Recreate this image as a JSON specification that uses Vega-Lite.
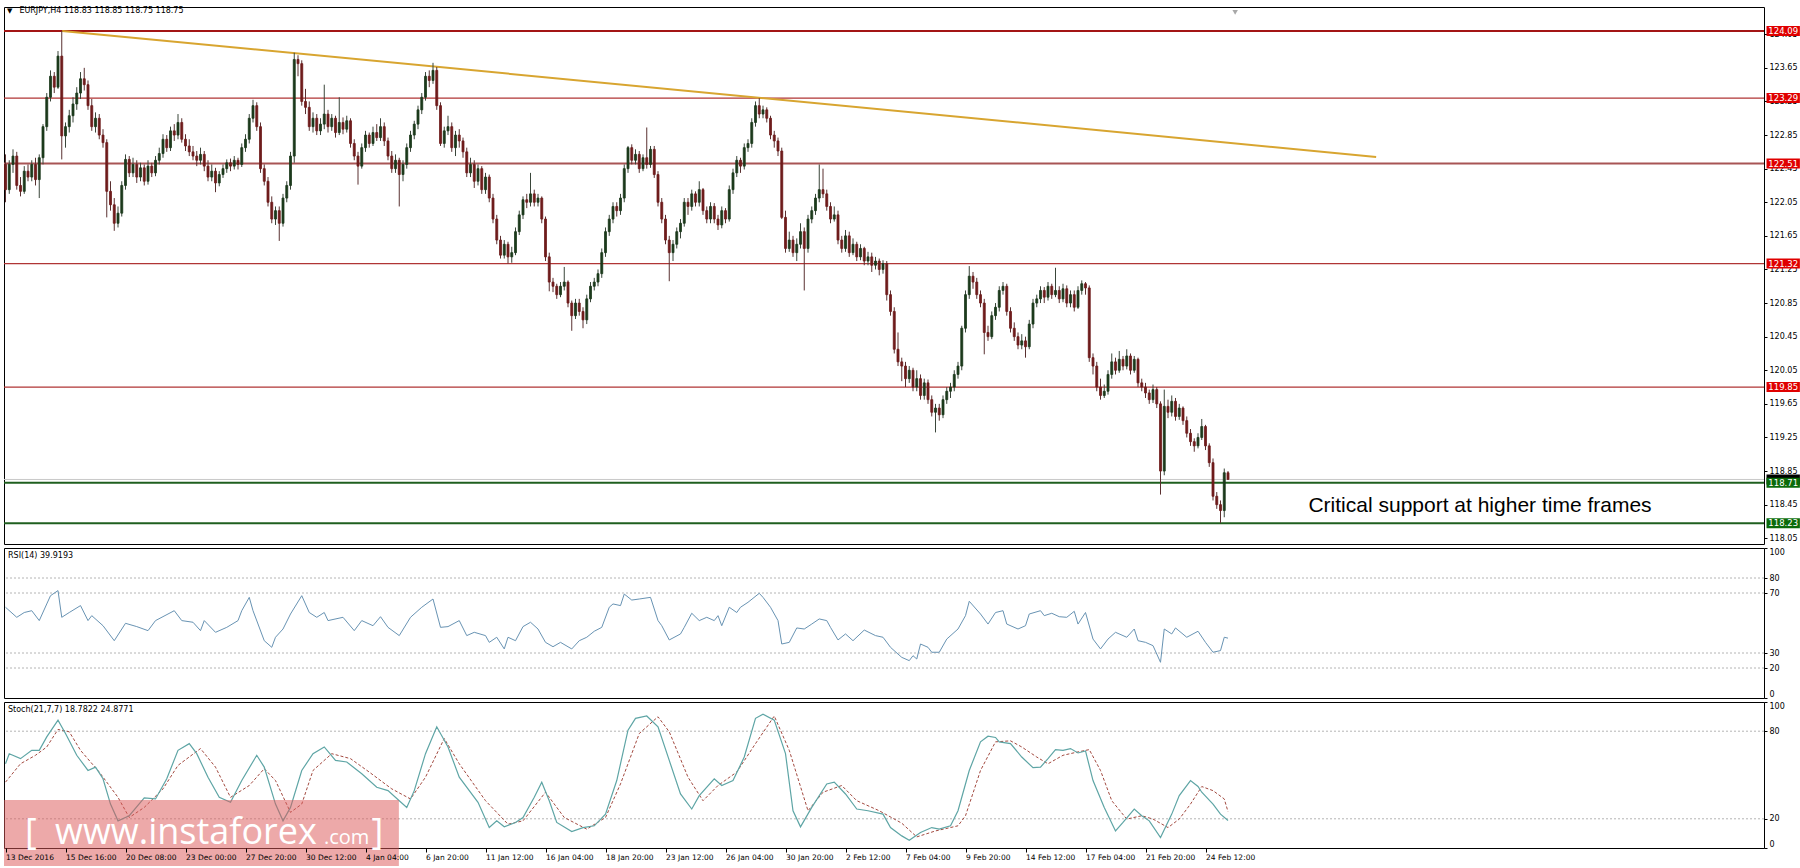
{
"$schema":"https://vega.github.io/schema/vega-lite/v6.json",
"padding":{"left":2,"top":6,"right":0,"bottom":0},
"bounds":"flush",
"spacing":4,
"config":{"view":{"stroke":"#000000","strokeWidth":1},"font":"DejaVu Sans","axis":{"labelFont":"DejaVu Sans","labelFontSize":8,"labelColor":"#000000","tickColor":"#000000","domain":false,"grid":false,"tickSize":3,"labelPadding":2}},
"datasets":{
"candles":[
{"i":0,"o":122.50,"h":122.62,"l":122.05,"c":122.20},{"i":1,"o":122.20,"h":122.55,"l":122.15,"c":122.50},{"i":2,"o":122.50,"h":122.68,"l":122.40,"c":122.60},{"i":3,"o":122.60,"h":122.65,"l":122.20,"c":122.25},{"i":4,"o":122.25,"h":122.35,"l":122.12,"c":122.18},{"i":5,"o":122.18,"h":122.48,"l":122.15,"c":122.42},{"i":6,"o":122.42,"h":122.50,"l":122.30,"c":122.35},{"i":7,"o":122.35,"h":122.55,"l":122.30,"c":122.50},{"i":8,"o":122.50,"h":122.58,"l":122.25,"c":122.32},{"i":9,"o":122.32,"h":122.62,"l":122.10,"c":122.58},
{"i":10,"o":122.58,"h":122.98,"l":122.50,"c":122.95},{"i":11,"o":122.95,"h":123.35,"l":122.90,"c":123.30},{"i":12,"o":123.30,"h":123.62,"l":123.25,"c":123.55},{"i":13,"o":123.55,"h":123.60,"l":123.35,"c":123.42},{"i":14,"o":123.42,"h":123.85,"l":123.40,"c":123.79},{"i":15,"o":123.79,"h":124.09,"l":122.56,"c":122.84},{"i":16,"o":122.84,"h":123.00,"l":122.70,"c":122.95},{"i":17,"o":122.95,"h":123.15,"l":122.88,"c":123.08},{"i":18,"o":123.08,"h":123.30,"l":123.00,"c":123.22},{"i":19,"o":123.22,"h":123.42,"l":123.15,"c":123.35},
{"i":20,"o":123.35,"h":123.60,"l":123.28,"c":123.52},{"i":21,"o":123.52,"h":123.65,"l":123.38,"c":123.45},{"i":22,"o":123.45,"h":123.50,"l":123.15,"c":123.20},{"i":23,"o":123.20,"h":123.28,"l":122.90,"c":122.95},{"i":24,"o":122.95,"h":123.12,"l":122.88,"c":123.05},{"i":25,"o":123.05,"h":123.10,"l":122.80,"c":122.85},{"i":26,"o":122.85,"h":122.92,"l":122.70,"c":122.76},{"i":27,"o":122.76,"h":122.80,"l":121.87,"c":122.18},{"i":28,"o":122.18,"h":122.30,"l":121.95,"c":122.02},{"i":29,"o":122.02,"h":122.10,"l":121.71,"c":121.80},
{"i":30,"o":121.80,"h":122.00,"l":121.75,"c":121.92},{"i":31,"o":121.92,"h":122.30,"l":121.88,"c":122.25},{"i":32,"o":122.25,"h":122.62,"l":122.20,"c":122.56},{"i":33,"o":122.56,"h":122.60,"l":122.35,"c":122.40},{"i":34,"o":122.40,"h":122.58,"l":122.35,"c":122.50},{"i":35,"o":122.50,"h":122.55,"l":122.28,"c":122.35},{"i":36,"o":122.35,"h":122.52,"l":122.30,"c":122.46},{"i":37,"o":122.46,"h":122.50,"l":122.25,"c":122.30},{"i":38,"o":122.30,"h":122.55,"l":122.26,"c":122.48},{"i":39,"o":122.48,"h":122.52,"l":122.35,"c":122.40},
{"i":40,"o":122.40,"h":122.60,"l":122.36,"c":122.55},{"i":41,"o":122.55,"h":122.70,"l":122.50,"c":122.63},{"i":42,"o":122.63,"h":122.86,"l":122.58,"c":122.80},{"i":43,"o":122.80,"h":122.85,"l":122.65,"c":122.70},{"i":44,"o":122.70,"h":122.95,"l":122.66,"c":122.90},{"i":45,"o":122.90,"h":122.98,"l":122.78,"c":122.85},{"i":46,"o":122.85,"h":123.10,"l":122.80,"c":123.00},{"i":47,"o":123.00,"h":123.05,"l":122.76,"c":122.80},{"i":48,"o":122.80,"h":122.86,"l":122.66,"c":122.72},{"i":49,"o":122.72,"h":122.80,"l":122.60,"c":122.65},
{"i":50,"o":122.65,"h":122.72,"l":122.55,"c":122.60},{"i":51,"o":122.60,"h":122.66,"l":122.48,"c":122.55},{"i":52,"o":122.55,"h":122.70,"l":122.50,"c":122.62},{"i":53,"o":122.62,"h":122.66,"l":122.42,"c":122.48},{"i":54,"o":122.48,"h":122.55,"l":122.30,"c":122.35},{"i":55,"o":122.35,"h":122.50,"l":122.30,"c":122.42},{"i":56,"o":122.42,"h":122.46,"l":122.17,"c":122.28},{"i":57,"o":122.28,"h":122.42,"l":122.24,"c":122.38},{"i":58,"o":122.38,"h":122.50,"l":122.34,"c":122.45},{"i":59,"o":122.45,"h":122.56,"l":122.40,"c":122.52},
{"i":60,"o":122.52,"h":122.57,"l":122.42,"c":122.48},{"i":61,"o":122.48,"h":122.60,"l":122.44,"c":122.55},{"i":62,"o":122.55,"h":122.58,"l":122.44,"c":122.50},{"i":63,"o":122.50,"h":122.75,"l":122.47,"c":122.70},{"i":64,"o":122.70,"h":122.86,"l":122.65,"c":122.80},{"i":65,"o":122.80,"h":123.10,"l":122.75,"c":123.05},{"i":66,"o":123.05,"h":123.27,"l":123.00,"c":123.20},{"i":67,"o":123.20,"h":123.24,"l":122.90,"c":122.95},{"i":68,"o":122.95,"h":123.00,"l":122.40,"c":122.45},{"i":69,"o":122.45,"h":122.50,"l":122.25,"c":122.30},
{"i":70,"o":122.30,"h":122.35,"l":122.00,"c":122.05},{"i":71,"o":122.05,"h":122.12,"l":121.80,"c":121.85},{"i":72,"o":121.85,"h":122.00,"l":121.78,"c":121.95},{"i":73,"o":121.95,"h":122.00,"l":121.59,"c":121.80},{"i":74,"o":121.80,"h":122.15,"l":121.76,"c":122.10},{"i":75,"o":122.10,"h":122.30,"l":122.05,"c":122.25},{"i":76,"o":122.25,"h":122.65,"l":122.20,"c":122.60},{"i":77,"o":122.60,"h":123.83,"l":122.52,"c":123.75},{"i":78,"o":123.75,"h":123.80,"l":123.55,"c":123.70},{"i":79,"o":123.70,"h":123.74,"l":123.20,"c":123.25},
{"i":80,"o":123.25,"h":123.40,"l":123.10,"c":123.18},{"i":81,"o":123.18,"h":123.25,"l":122.90,"c":122.95},{"i":82,"o":122.95,"h":123.12,"l":122.88,"c":123.05},{"i":83,"o":123.05,"h":123.10,"l":122.85,"c":122.90},{"i":84,"o":122.90,"h":123.05,"l":122.85,"c":122.98},{"i":85,"o":122.98,"h":123.45,"l":122.92,"c":123.10},{"i":86,"o":123.10,"h":123.15,"l":122.88,"c":122.95},{"i":87,"o":122.95,"h":123.10,"l":122.90,"c":123.05},{"i":88,"o":123.05,"h":123.08,"l":122.82,"c":122.88},{"i":89,"o":122.88,"h":123.30,"l":122.85,"c":123.00},
{"i":90,"o":123.00,"h":123.06,"l":122.86,"c":122.92},{"i":91,"o":122.92,"h":123.08,"l":122.88,"c":123.02},{"i":92,"o":123.02,"h":123.05,"l":122.70,"c":122.75},{"i":93,"o":122.75,"h":122.80,"l":122.55,"c":122.60},{"i":94,"o":122.60,"h":122.65,"l":122.26,"c":122.48},{"i":95,"o":122.48,"h":122.75,"l":122.45,"c":122.70},{"i":96,"o":122.70,"h":122.90,"l":122.65,"c":122.85},{"i":97,"o":122.85,"h":122.88,"l":122.70,"c":122.75},{"i":98,"o":122.75,"h":122.95,"l":122.72,"c":122.88},{"i":99,"o":122.88,"h":122.98,"l":122.78,"c":122.82},
{"i":100,"o":122.82,"h":123.05,"l":122.78,"c":122.95},{"i":101,"o":122.95,"h":123.00,"l":122.72,"c":122.78},{"i":102,"o":122.78,"h":122.82,"l":122.55,"c":122.60},{"i":103,"o":122.60,"h":122.66,"l":122.40,"c":122.45},{"i":104,"o":122.45,"h":122.62,"l":122.40,"c":122.55},{"i":105,"o":122.55,"h":122.58,"l":122.00,"c":122.38},{"i":106,"o":122.38,"h":122.55,"l":122.30,"c":122.50},{"i":107,"o":122.50,"h":122.75,"l":122.45,"c":122.70},{"i":108,"o":122.70,"h":122.90,"l":122.65,"c":122.85},{"i":109,"o":122.85,"h":123.02,"l":122.80,"c":122.98},
{"i":110,"o":122.98,"h":123.20,"l":122.92,"c":123.15},{"i":111,"o":123.15,"h":123.35,"l":123.10,"c":123.30},{"i":112,"o":123.30,"h":123.60,"l":123.26,"c":123.55},{"i":113,"o":123.55,"h":123.62,"l":123.42,"c":123.50},{"i":114,"o":123.50,"h":123.71,"l":123.46,"c":123.62},{"i":115,"o":123.62,"h":123.66,"l":123.15,"c":123.20},{"i":116,"o":123.20,"h":123.24,"l":122.72,"c":122.75},{"i":117,"o":122.75,"h":122.95,"l":122.70,"c":122.90},{"i":118,"o":122.90,"h":123.08,"l":122.85,"c":122.95},{"i":119,"o":122.95,"h":123.00,"l":122.65,"c":122.70},
{"i":120,"o":122.70,"h":122.90,"l":122.60,"c":122.85},{"i":121,"o":122.85,"h":122.92,"l":122.70,"c":122.78},{"i":122,"o":122.78,"h":122.82,"l":122.58,"c":122.65},{"i":123,"o":122.65,"h":122.70,"l":122.35,"c":122.40},{"i":124,"o":122.40,"h":122.58,"l":122.35,"c":122.50},{"i":125,"o":122.50,"h":122.55,"l":122.22,"c":122.30},{"i":126,"o":122.30,"h":122.50,"l":122.25,"c":122.45},{"i":127,"o":122.45,"h":122.48,"l":122.15,"c":122.20},{"i":128,"o":122.20,"h":122.40,"l":122.15,"c":122.35},{"i":129,"o":122.35,"h":122.38,"l":122.05,"c":122.10},
{"i":130,"o":122.10,"h":122.15,"l":121.80,"c":121.85},{"i":131,"o":121.85,"h":121.90,"l":121.55,"c":121.60},{"i":132,"o":121.60,"h":121.65,"l":121.38,"c":121.42},{"i":133,"o":121.42,"h":121.60,"l":121.38,"c":121.55},{"i":134,"o":121.55,"h":121.58,"l":121.32,"c":121.40},{"i":135,"o":121.40,"h":121.52,"l":121.33,"c":121.45},{"i":136,"o":121.45,"h":121.75,"l":121.42,"c":121.70},{"i":137,"o":121.70,"h":121.95,"l":121.66,"c":121.90},{"i":138,"o":121.90,"h":122.12,"l":121.85,"c":122.08},{"i":139,"o":122.08,"h":122.15,"l":121.98,"c":122.05},
{"i":140,"o":122.05,"h":122.40,"l":122.00,"c":122.15},{"i":141,"o":122.15,"h":122.20,"l":122.00,"c":122.05},{"i":142,"o":122.05,"h":122.15,"l":122.00,"c":122.10},{"i":143,"o":122.10,"h":122.12,"l":121.80,"c":121.85},{"i":144,"o":121.85,"h":121.88,"l":121.35,"c":121.40},{"i":145,"o":121.40,"h":121.45,"l":120.99,"c":121.10},{"i":146,"o":121.10,"h":121.15,"l":120.98,"c":121.05},{"i":147,"o":121.05,"h":121.08,"l":120.90,"c":120.95},{"i":148,"o":120.95,"h":121.10,"l":120.92,"c":121.05},{"i":149,"o":121.05,"h":121.28,"l":121.00,"c":121.10},
{"i":150,"o":121.10,"h":121.12,"l":120.80,"c":120.85},{"i":151,"o":120.85,"h":120.88,"l":120.52,"c":120.70},{"i":152,"o":120.70,"h":120.90,"l":120.66,"c":120.85},{"i":153,"o":120.85,"h":120.90,"l":120.70,"c":120.75},{"i":154,"o":120.75,"h":120.80,"l":120.55,"c":120.65},{"i":155,"o":120.65,"h":120.95,"l":120.60,"c":120.90},{"i":156,"o":120.90,"h":121.10,"l":120.86,"c":121.05},{"i":157,"o":121.05,"h":121.15,"l":121.00,"c":121.10},{"i":158,"o":121.10,"h":121.25,"l":121.05,"c":121.20},{"i":159,"o":121.20,"h":121.50,"l":121.15,"c":121.45},
{"i":160,"o":121.45,"h":121.75,"l":121.40,"c":121.70},{"i":161,"o":121.70,"h":121.90,"l":121.65,"c":121.85},{"i":162,"o":121.85,"h":122.05,"l":121.80,"c":122.00},{"i":163,"o":122.00,"h":122.05,"l":121.88,"c":121.95},{"i":164,"o":121.95,"h":122.15,"l":121.90,"c":122.10},{"i":165,"o":122.10,"h":122.50,"l":122.05,"c":122.45},{"i":166,"o":122.45,"h":122.72,"l":122.40,"c":122.70},{"i":167,"o":122.70,"h":122.74,"l":122.50,"c":122.55},{"i":168,"o":122.55,"h":122.68,"l":122.50,"c":122.62},{"i":169,"o":122.62,"h":122.66,"l":122.40,"c":122.45},
{"i":170,"o":122.45,"h":122.62,"l":122.42,"c":122.58},{"i":171,"o":122.58,"h":122.94,"l":122.45,"c":122.50},{"i":172,"o":122.50,"h":122.72,"l":122.46,"c":122.68},{"i":173,"o":122.68,"h":122.72,"l":122.34,"c":122.38},{"i":174,"o":122.38,"h":122.42,"l":122.00,"c":122.05},{"i":175,"o":122.05,"h":122.10,"l":121.80,"c":121.85},{"i":176,"o":121.85,"h":121.90,"l":121.55,"c":121.60},{"i":177,"o":121.60,"h":121.65,"l":121.11,"c":121.45},{"i":178,"o":121.45,"h":121.60,"l":121.35,"c":121.55},{"i":179,"o":121.55,"h":121.75,"l":121.50,"c":121.70},
{"i":180,"o":121.70,"h":121.85,"l":121.62,"c":121.80},{"i":181,"o":121.80,"h":122.10,"l":121.76,"c":122.05},{"i":182,"o":122.05,"h":122.10,"l":121.90,"c":122.00},{"i":183,"o":122.00,"h":122.20,"l":121.95,"c":122.15},{"i":184,"o":122.15,"h":122.18,"l":122.00,"c":122.05},{"i":185,"o":122.05,"h":122.30,"l":122.00,"c":122.20},{"i":186,"o":122.20,"h":122.22,"l":121.90,"c":121.95},{"i":187,"o":121.95,"h":122.00,"l":121.80,"c":121.85},{"i":188,"o":121.85,"h":122.05,"l":121.80,"c":122.00},{"i":189,"o":122.00,"h":122.04,"l":121.80,"c":121.85},
{"i":190,"o":121.85,"h":121.90,"l":121.72,"c":121.78},{"i":191,"o":121.78,"h":122.00,"l":121.74,"c":121.95},{"i":192,"o":121.95,"h":121.98,"l":121.80,"c":121.85},{"i":193,"o":121.85,"h":122.25,"l":121.82,"c":122.20},{"i":194,"o":122.20,"h":122.45,"l":122.15,"c":122.40},{"i":195,"o":122.40,"h":122.60,"l":122.35,"c":122.55},{"i":196,"o":122.55,"h":122.58,"l":122.40,"c":122.48},{"i":197,"o":122.48,"h":122.75,"l":122.44,"c":122.70},{"i":198,"o":122.70,"h":122.80,"l":122.65,"c":122.75},{"i":199,"o":122.75,"h":123.05,"l":122.70,"c":123.00},
{"i":200,"o":123.00,"h":123.25,"l":122.95,"c":123.20},{"i":201,"o":123.20,"h":123.29,"l":123.05,"c":123.10},{"i":202,"o":123.10,"h":123.20,"l":123.05,"c":123.15},{"i":203,"o":123.15,"h":123.18,"l":123.00,"c":123.05},{"i":204,"o":123.05,"h":123.08,"l":122.80,"c":122.85},{"i":205,"o":122.85,"h":122.90,"l":122.70,"c":122.78},{"i":206,"o":122.78,"h":122.82,"l":122.60,"c":122.66},{"i":207,"o":122.66,"h":122.70,"l":121.85,"c":121.87},{"i":208,"o":121.87,"h":121.95,"l":121.45,"c":121.50},{"i":209,"o":121.50,"h":121.70,"l":121.46,"c":121.60},
{"i":210,"o":121.60,"h":121.65,"l":121.40,"c":121.45},{"i":211,"o":121.45,"h":121.62,"l":121.35,"c":121.55},{"i":212,"o":121.55,"h":121.80,"l":121.50,"c":121.70},{"i":213,"o":121.70,"h":121.75,"l":121.00,"c":121.50},{"i":214,"o":121.50,"h":121.90,"l":121.45,"c":121.85},{"i":215,"o":121.85,"h":122.00,"l":121.80,"c":121.95},{"i":216,"o":121.95,"h":122.15,"l":121.90,"c":122.10},{"i":217,"o":122.10,"h":122.50,"l":122.05,"c":122.20},{"i":218,"o":122.20,"h":122.45,"l":122.10,"c":122.15},{"i":219,"o":122.15,"h":122.20,"l":121.95,"c":122.00},
{"i":220,"o":122.00,"h":122.05,"l":121.80,"c":121.85},{"i":221,"o":121.85,"h":122.00,"l":121.82,"c":121.90},{"i":222,"o":121.90,"h":121.95,"l":121.55,"c":121.60},{"i":223,"o":121.60,"h":121.65,"l":121.45,"c":121.50},{"i":224,"o":121.50,"h":121.72,"l":121.46,"c":121.65},{"i":225,"o":121.65,"h":121.70,"l":121.40,"c":121.45},{"i":226,"o":121.45,"h":121.62,"l":121.42,"c":121.55},{"i":227,"o":121.55,"h":121.58,"l":121.35,"c":121.40},{"i":228,"o":121.40,"h":121.55,"l":121.36,"c":121.50},{"i":229,"o":121.50,"h":121.52,"l":121.30,"c":121.35},
{"i":230,"o":121.35,"h":121.46,"l":121.30,"c":121.40},{"i":231,"o":121.40,"h":121.45,"l":121.22,"c":121.30},{"i":232,"o":121.30,"h":121.40,"l":121.25,"c":121.35},{"i":233,"o":121.35,"h":121.38,"l":121.18,"c":121.25},{"i":234,"o":121.25,"h":121.36,"l":121.20,"c":121.32},{"i":235,"o":121.32,"h":121.35,"l":120.88,"c":120.95},{"i":236,"o":120.95,"h":121.00,"l":120.70,"c":120.75},{"i":237,"o":120.75,"h":120.80,"l":120.25,"c":120.30},{"i":238,"o":120.30,"h":120.50,"l":120.10,"c":120.15},{"i":239,"o":120.15,"h":120.20,"l":119.92,"c":120.10},
{"i":240,"o":120.10,"h":120.15,"l":119.85,"c":119.95},{"i":241,"o":119.95,"h":120.10,"l":119.90,"c":120.05},{"i":242,"o":120.05,"h":120.08,"l":119.80,"c":119.85},{"i":243,"o":119.85,"h":120.05,"l":119.80,"c":119.95},{"i":244,"o":119.95,"h":120.00,"l":119.70,"c":119.75},{"i":245,"o":119.75,"h":119.95,"l":119.70,"c":119.90},{"i":246,"o":119.90,"h":119.94,"l":119.65,"c":119.70},{"i":247,"o":119.70,"h":119.75,"l":119.50,"c":119.55},{"i":248,"o":119.55,"h":119.65,"l":119.31,"c":119.60},{"i":249,"o":119.60,"h":119.65,"l":119.45,"c":119.52},
{"i":250,"o":119.52,"h":119.75,"l":119.48,"c":119.70},{"i":251,"o":119.70,"h":119.85,"l":119.65,"c":119.80},{"i":252,"o":119.80,"h":119.90,"l":119.72,"c":119.85},{"i":253,"o":119.85,"h":120.05,"l":119.80,"c":120.00},{"i":254,"o":120.00,"h":120.15,"l":119.95,"c":120.10},{"i":255,"o":120.10,"h":120.58,"l":120.05,"c":120.55},{"i":256,"o":120.55,"h":121.00,"l":120.50,"c":120.95},{"i":257,"o":120.95,"h":121.29,"l":120.90,"c":121.17},{"i":258,"o":121.17,"h":121.22,"l":121.02,"c":121.10},{"i":259,"o":121.10,"h":121.15,"l":120.90,"c":120.95},
{"i":260,"o":120.95,"h":121.00,"l":120.80,"c":120.85},{"i":261,"o":120.85,"h":120.90,"l":120.24,"c":120.50},{"i":262,"o":120.50,"h":120.58,"l":120.40,"c":120.45},{"i":263,"o":120.45,"h":120.75,"l":120.42,"c":120.70},{"i":264,"o":120.70,"h":120.85,"l":120.65,"c":120.80},{"i":265,"o":120.80,"h":121.05,"l":120.75,"c":121.00},{"i":266,"o":121.00,"h":121.10,"l":120.95,"c":121.05},{"i":267,"o":121.05,"h":121.08,"l":120.70,"c":120.75},{"i":268,"o":120.75,"h":120.80,"l":120.50,"c":120.55},{"i":269,"o":120.55,"h":120.62,"l":120.40,"c":120.45},
{"i":270,"o":120.45,"h":120.50,"l":120.30,"c":120.35},{"i":271,"o":120.35,"h":120.48,"l":120.30,"c":120.40},{"i":272,"o":120.40,"h":120.45,"l":120.20,"c":120.33},{"i":273,"o":120.33,"h":120.65,"l":120.30,"c":120.60},{"i":274,"o":120.60,"h":120.90,"l":120.55,"c":120.85},{"i":275,"o":120.85,"h":120.95,"l":120.80,"c":120.90},{"i":276,"o":120.90,"h":121.05,"l":120.85,"c":121.00},{"i":277,"o":121.00,"h":121.04,"l":120.85,"c":120.92},{"i":278,"o":120.92,"h":121.10,"l":120.88,"c":121.05},{"i":279,"o":121.05,"h":121.08,"l":120.90,"c":120.95},
{"i":280,"o":120.95,"h":121.27,"l":120.92,"c":121.00},{"i":281,"o":121.00,"h":121.05,"l":120.85,"c":120.90},{"i":282,"o":120.90,"h":121.08,"l":120.86,"c":121.02},{"i":283,"o":121.02,"h":121.06,"l":120.80,"c":120.85},{"i":284,"o":120.85,"h":121.00,"l":120.80,"c":120.95},{"i":285,"o":120.95,"h":121.00,"l":120.75,"c":120.80},{"i":286,"o":120.80,"h":121.05,"l":120.78,"c":121.00},{"i":287,"o":121.00,"h":121.12,"l":120.95,"c":121.08},{"i":288,"o":121.08,"h":121.10,"l":120.95,"c":121.03},{"i":289,"o":121.03,"h":121.06,"l":120.15,"c":120.20},
{"i":290,"o":120.20,"h":120.25,"l":120.00,"c":120.10},{"i":291,"o":120.10,"h":120.15,"l":119.80,"c":119.85},{"i":292,"o":119.85,"h":119.95,"l":119.70,"c":119.75},{"i":293,"o":119.75,"h":119.88,"l":119.72,"c":119.80},{"i":294,"o":119.80,"h":120.05,"l":119.76,"c":120.00},{"i":295,"o":120.00,"h":120.25,"l":119.95,"c":120.15},{"i":296,"o":120.15,"h":120.20,"l":120.00,"c":120.05},{"i":297,"o":120.05,"h":120.28,"l":120.02,"c":120.18},{"i":298,"o":120.18,"h":120.22,"l":120.05,"c":120.10},{"i":299,"o":120.10,"h":120.30,"l":120.06,"c":120.22},
{"i":300,"o":120.22,"h":120.25,"l":120.00,"c":120.05},{"i":301,"o":120.05,"h":120.22,"l":120.02,"c":120.18},{"i":302,"o":120.18,"h":120.20,"l":119.85,"c":119.90},{"i":303,"o":119.90,"h":119.95,"l":119.80,"c":119.85},{"i":304,"o":119.85,"h":119.90,"l":119.72,"c":119.78},{"i":305,"o":119.78,"h":119.82,"l":119.65,"c":119.70},{"i":306,"o":119.70,"h":119.88,"l":119.66,"c":119.82},{"i":307,"o":119.82,"h":119.85,"l":119.60,"c":119.65},{"i":308,"o":119.65,"h":119.68,"l":118.57,"c":118.85},{"i":309,"o":118.85,"h":119.82,"l":118.80,"c":119.62},
{"i":310,"o":119.62,"h":119.70,"l":119.48,"c":119.55},{"i":311,"o":119.55,"h":119.75,"l":119.50,"c":119.68},{"i":312,"o":119.68,"h":119.72,"l":119.45,"c":119.50},{"i":313,"o":119.50,"h":119.65,"l":119.46,"c":119.60},{"i":314,"o":119.60,"h":119.62,"l":119.40,"c":119.45},{"i":315,"o":119.45,"h":119.50,"l":119.25,"c":119.30},{"i":316,"o":119.30,"h":119.35,"l":119.15,"c":119.20},{"i":317,"o":119.20,"h":119.24,"l":119.08,"c":119.15},{"i":318,"o":119.15,"h":119.30,"l":119.12,"c":119.25},{"i":319,"o":119.25,"h":119.47,"l":119.22,"c":119.38},
{"i":320,"o":119.38,"h":119.40,"l":119.10,"c":119.15},{"i":321,"o":119.15,"h":119.18,"l":118.90,"c":118.95},{"i":322,"o":118.95,"h":119.00,"l":118.50,"c":118.55},{"i":323,"o":118.55,"h":118.60,"l":118.40,"c":118.45},{"i":324,"o":118.45,"h":118.50,"l":118.23,"c":118.38},{"i":325,"o":118.38,"h":118.88,"l":118.30,"c":118.83},{"i":326,"o":118.83,"h":118.85,"l":118.75,"c":118.75}
],
"rsi":[
{"i":0,"v":60.5},{"i":3,"v":53.8},{"i":5,"v":57},{"i":7,"v":58.2},{"i":9,"v":51.6},{"i":11,"v":62.7},{"i":12,"v":68.2},{"i":14,"v":71.6},{"i":15,"v":53.8},{"i":17,"v":57},{"i":20,"v":61.6},{"i":22,"v":51.6},{"i":23,"v":54.9},{"i":26,"v":48.2},{"i":29,"v":38.2},{"i":32,"v":49.8},{"i":35,"v":47.6},{"i":38,"v":44.9},{"i":40,"v":51.6},{"i":45,"v":58.2},{"i":47,"v":51.6},{"i":50,"v":50.5},{"i":52,"v":44.9},{"i":53,"v":51.6},{"i":56,"v":43.8},{"i":59,"v":47.1},{"i":62,"v":51.6},{"i":63,"v":58.2},{"i":65,"v":67.1},{"i":66,"v":58.2},{"i":69,"v":38.2},{"i":71,"v":33.8},{"i":72,"v":40.5},{"i":74,"v":46},{"i":76,"v":56},{"i":79,"v":68.2},{"i":81,"v":57},{"i":83,"v":53.8},{"i":85,"v":57},{"i":86,"v":51.6},{"i":90,"v":53.8},{"i":93,"v":44.9},{"i":95,"v":51.6},{"i":98,"v":48.2},{"i":100,"v":54.2},{"i":102,"v":47.1},{"i":105,"v":41.6},{"i":108,"v":53.8},{"i":111,"v":60.5},{"i":114,"v":66},{"i":116,"v":47.1},{"i":118,"v":47.6},{"i":121,"v":51.6},{"i":123,"v":41.6},{"i":125,"v":43.8},{"i":128,"v":41.6},{"i":129,"v":37.1},{"i":131,"v":40.5},{"i":133,"v":32.7},{"i":134,"v":40.5},{"i":136,"v":38.2},{"i":138,"v":47.6},{"i":140,"v":50.5},{"i":142,"v":46},{"i":144,"v":37.1},{"i":146,"v":34.2},{"i":148,"v":37.1},{"i":151,"v":32.7},{"i":153,"v":38.2},{"i":155,"v":40.5},{"i":157,"v":44.5},{"i":159,"v":47.1},{"i":161,"v":60.5},{"i":162,"v":62.7},{"i":164,"v":61.6},{"i":165,"v":69.3},{"i":167,"v":65.3},{"i":169,"v":66},{"i":172,"v":67.1},{"i":174,"v":51.6},{"i":175,"v":48.2},{"i":177,"v":38.7},{"i":180,"v":42.7},{"i":181,"v":47.1},{"i":183,"v":56.5},{"i":185,"v":51.6},{"i":187,"v":53.8},{"i":189,"v":51.6},{"i":190,"v":54.9},{"i":191,"v":48.2},{"i":193,"v":60.5},{"i":195,"v":57},{"i":196,"v":60.5},{"i":198,"v":63.8},{"i":201,"v":69.8},{"i":202,"v":67.1},{"i":204,"v":60.5},{"i":206,"v":51.6},{"i":207,"v":36},{"i":209,"v":37.1},{"i":211,"v":46.7},{"i":213,"v":46},{"i":215,"v":49.3},{"i":217,"v":52.7},{"i":219,"v":51.6},{"i":220,"v":47.1},{"i":222,"v":38.7},{"i":224,"v":42.7},{"i":226,"v":38.2},{"i":229,"v":45.3},{"i":232,"v":41.6},{"i":234,"v":40.5},{"i":236,"v":33.8},{"i":238,"v":29.3},{"i":239,"v":27.1},{"i":241,"v":24.9},{"i":242,"v":28.2},{"i":243,"v":26},{"i":244,"v":36},{"i":246,"v":33.8},{"i":247,"v":30.5},{"i":249,"v":30.5},{"i":251,"v":39.3},{"i":254,"v":46},{"i":256,"v":54.9},{"i":257,"v":64.5},{"i":260,"v":56},{"i":262,"v":49.3},{"i":264,"v":57},{"i":266,"v":58.2},{"i":267,"v":49.3},{"i":270,"v":46},{"i":272,"v":48.2},{"i":273,"v":56},{"i":276,"v":58.2},{"i":277,"v":54.9},{"i":279,"v":56.5},{"i":281,"v":54.2},{"i":283,"v":53.8},{"i":285,"v":57.8},{"i":286,"v":49.3},{"i":288,"v":57},{"i":290,"v":39.3},{"i":292,"v":32.7},{"i":294,"v":39.3},{"i":296,"v":43.8},{"i":299,"v":40.5},{"i":301,"v":46},{"i":302,"v":38.2},{"i":304,"v":37.1},{"i":306,"v":34.9},{"i":308,"v":23.8},{"i":309,"v":46},{"i":311,"v":42.7},{"i":312,"v":46.7},{"i":315,"v":40.5},{"i":318,"v":44.5},{"i":320,"v":37.1},{"i":322,"v":30.5},{"i":324,"v":31.6},{"i":325,"v":40.5},{"i":326,"v":39.9}
],
"stk":[
{"i":0,"v":57.7},{"i":1,"v":64.6},{"i":4,"v":61.2},{"i":7,"v":66.9},{"i":9,"v":66.9},{"i":11,"v":76.1},{"i":14,"v":87.6},{"i":16,"v":78.4},{"i":19,"v":63.5},{"i":22,"v":53.1},{"i":24,"v":55.4},{"i":26,"v":47.4},{"i":28,"v":30.1},{"i":30,"v":18.6},{"i":33,"v":22.1},{"i":37,"v":34.3},{"i":40,"v":33.6},{"i":43,"v":47.4},{"i":46,"v":66.9},{"i":49,"v":71.5},{"i":51,"v":64.6},{"i":54,"v":48.5},{"i":57,"v":34.7},{"i":60,"v":31.3},{"i":63,"v":46.2},{"i":67,"v":63.5},{"i":69,"v":55.4},{"i":72,"v":30.1},{"i":74,"v":18.6},{"i":76,"v":27.8},{"i":79,"v":53.1},{"i":82,"v":64.6},{"i":85,"v":69.2},{"i":88,"v":60},{"i":91,"v":58.9},{"i":95,"v":50.8},{"i":99,"v":41.6},{"i":102,"v":39.3},{"i":105,"v":32.4},{"i":107,"v":27.8},{"i":109,"v":39.3},{"i":112,"v":64.6},{"i":115,"v":83},{"i":118,"v":69.2},{"i":121,"v":48.5},{"i":126,"v":31.3},{"i":129,"v":14},{"i":131,"v":18.6},{"i":133,"v":14.5},{"i":136,"v":17.5},{"i":138,"v":20.9},{"i":141,"v":34.7},{"i":143,"v":45.1},{"i":145,"v":32.4},{"i":147,"v":17.5},{"i":151,"v":11.3},{"i":154,"v":14},{"i":157,"v":15.2},{"i":160,"v":23.2},{"i":163,"v":46.2},{"i":166,"v":80.7},{"i":168,"v":88.8},{"i":171,"v":90.4},{"i":174,"v":83},{"i":177,"v":60},{"i":180,"v":37},{"i":183,"v":26.7},{"i":185,"v":35.9},{"i":189,"v":47.4},{"i":191,"v":42.8},{"i":194,"v":46.2},{"i":197,"v":62.3},{"i":200,"v":88.8},{"i":202,"v":91.7},{"i":205,"v":87.6},{"i":208,"v":64.6},{"i":210,"v":25.5},{"i":212,"v":14.5},{"i":215,"v":27.8},{"i":219,"v":43.9},{"i":221,"v":45.1},{"i":224,"v":37},{"i":227,"v":26.7},{"i":230,"v":25.5},{"i":234,"v":23.2},{"i":236,"v":14},{"i":239,"v":8.3},{"i":241,"v":5.3},{"i":244,"v":10.6},{"i":247,"v":14},{"i":249,"v":12.9},{"i":252,"v":15.2},{"i":254,"v":25.5},{"i":257,"v":53.1},{"i":260,"v":72.7},{"i":262,"v":76.6},{"i":264,"v":75.7},{"i":265,"v":72.7},{"i":268,"v":71.5},{"i":271,"v":62.3},{"i":274,"v":55},{"i":276,"v":55.4},{"i":278,"v":61.2},{"i":280,"v":67.4},{"i":282,"v":66.9},{"i":284,"v":68.1},{"i":286,"v":65.1},{"i":288,"v":66.5},{"i":290,"v":46.2},{"i":293,"v":27.8},{"i":296,"v":11.7},{"i":298,"v":17.5},{"i":301,"v":26.7},{"i":303,"v":22.1},{"i":305,"v":18.6},{"i":308,"v":7.1},{"i":311,"v":23.2},{"i":313,"v":35.9},{"i":316,"v":46.2},{"i":318,"v":42.1},{"i":319,"v":38.2},{"i":322,"v":30.1},{"i":324,"v":23.2},{"i":326,"v":18.8}
],
"std":[
{"i":0,"v":45.1},{"i":4,"v":57.7},{"i":8,"v":63.5},{"i":11,"v":69.2},{"i":14,"v":81.2},{"i":17,"v":79.6},{"i":20,"v":66.9},{"i":25,"v":52},{"i":30,"v":34.7},{"i":33,"v":20.9},{"i":37,"v":27.8},{"i":42,"v":40.5},{"i":46,"v":56.6},{"i":52,"v":68.1},{"i":56,"v":55.4},{"i":60,"v":34.7},{"i":65,"v":42.8},{"i":69,"v":54.3},{"i":72,"v":46.2},{"i":76,"v":24.4},{"i":79,"v":30.1},{"i":82,"v":53.1},{"i":87,"v":64.6},{"i":92,"v":61.2},{"i":97,"v":52},{"i":103,"v":40.5},{"i":108,"v":33.6},{"i":112,"v":48.5},{"i":117,"v":75},{"i":121,"v":57.7},{"i":128,"v":32.4},{"i":134,"v":16.3},{"i":138,"v":18.6},{"i":144,"v":38.2},{"i":149,"v":20.9},{"i":155,"v":12.9},{"i":160,"v":20.9},{"i":164,"v":43.9},{"i":169,"v":78.4},{"i":174,"v":89.9},{"i":177,"v":79.6},{"i":182,"v":48.5},{"i":186,"v":32.4},{"i":190,"v":42.8},{"i":195,"v":52},{"i":200,"v":71.5},{"i":205,"v":90.4},{"i":209,"v":66.9},{"i":214,"v":25.5},{"i":218,"v":38.2},{"i":223,"v":42.8},{"i":227,"v":32.4},{"i":233,"v":25.5},{"i":239,"v":17},{"i":243,"v":7.6},{"i":248,"v":11.7},{"i":254,"v":15.2},{"i":256,"v":22.1},{"i":260,"v":53.1},{"i":264,"v":72.7},{"i":268,"v":73.4},{"i":271,"v":69.2},{"i":275,"v":62.3},{"i":278,"v":57.7},{"i":282,"v":63.5},{"i":286,"v":65.8},{"i":289,"v":67.4},{"i":292,"v":53.1},{"i":295,"v":32.4},{"i":299,"v":19.8},{"i":303,"v":22.1},{"i":306,"v":19.8},{"i":310,"v":14},{"i":313,"v":19.8},{"i":316,"v":30.1},{"i":319,"v":42.1},{"i":322,"v":39.3},{"i":325,"v":33.6},{"i":326,"v":24.9}
]
},
"vconcat":[
{
"width":1760,"height":537,
"layer":[
{"data":{"values":[{"p":118.75}]},"mark":{"type":"rule","color":"#C8C8C8","strokeWidth":1},"encoding":{"y":{"field":"p","type":"quantitative","scale":{"domain":[117.9817,124.3745],"nice":false,"zero":false,"padding":0},"title":null,"axis":{"orient":"right","zindex":0,"values":[118.05,118.45,118.85,119.25,119.65,120.05,120.45,120.85,121.25,121.65,122.05,122.45,122.85,123.25,123.65,124.05],"tickCount":40,"format":".2f","labelOverlap":false,"labelBound":false}}}},
{"data":{"values":[{"p":124.09}]},"mark":{"type":"rule","color":"#A31515","strokeWidth":2},"encoding":{"y":{"field":"p","type":"quantitative","title":null}}},
{"data":{"values":[{"p":123.29},{"p":121.32},{"p":119.85}]},"mark":{"type":"rule","color":"#B03535","strokeWidth":1.3},"encoding":{"y":{"field":"p","type":"quantitative","title":null}}},
{"data":{"values":[{"p":122.51}]},"mark":{"type":"rule","color":"#A85555","strokeWidth":2},"encoding":{"y":{"field":"p","type":"quantitative","title":null}}},
{"data":{"values":[{"p":118.71},{"p":118.23}]},"mark":{"type":"rule","color":"#1F5F1F","strokeWidth":2},"encoding":{"y":{"field":"p","type":"quantitative","title":null}}},
{"data":{"values":[{"i0":15.1,"p0":124.09,"i1":365.5,"p1":122.59}]},"mark":{"type":"rule","color":"#D8A530","strokeWidth":2},"encoding":{"x":{"field":"i0","type":"quantitative","scale":{"domain":[-0.4,468.93],"nice":false,"zero":false,"padding":0},"axis":null,"title":null},"x2":{"field":"i1"},"y":{"field":"p0","type":"quantitative","title":null},"y2":{"field":"p1"}}},
{"data":{"name":"candles"},"mark":{"type":"rule","strokeWidth":1,"clip":true},"encoding":{"x":{"field":"i","type":"quantitative","axis":null,"title":null},"y":{"field":"l","type":"quantitative","title":null},"y2":{"field":"h"},"color":{"condition":{"test":"datum.c>=datum.o","value":"#3a463a"},"value":"#5a3030"}}},
{"data":{"name":"candles"},"mark":{"type":"bar","orient":"vertical","size":2,"strokeWidth":0.8,"clip":true},"encoding":{"x":{"field":"i","type":"quantitative","axis":null,"title":null},"y":{"field":"o","type":"quantitative","title":null},"y2":{"field":"c"},"color":{"condition":{"test":"datum.c>=datum.o","value":"#1C3A1C"},"value":"#6E1C1C"},"stroke":{"condition":{"test":"datum.c>=datum.o","value":"#1C3A1C"},"value":"#6E1C1C"}}},
{"data":{"values":[{"p":118.75}]},"mark":{"type":"bar","orient":"horizontal","size":10,"color":"#000000","clip":false},"encoding":{"x":{"datum":469.6,"type":"quantitative","axis":null,"title":null},"x2":{"datum":478.5},"y":{"field":"p","type":"quantitative","title":null}}},
{"data":{"values":[{"p":124.09},{"p":123.29},{"p":122.51},{"p":121.32},{"p":119.85}]},"mark":{"type":"bar","orient":"horizontal","size":10,"color":"#E00000","clip":false},"encoding":{"x":{"datum":469.6,"type":"quantitative","axis":null,"title":null},"x2":{"datum":478.5},"y":{"field":"p","type":"quantitative","title":null}}},
{"data":{"values":[{"p":118.71},{"p":118.23}]},"mark":{"type":"bar","orient":"horizontal","size":10,"color":"#0B6B0B","clip":false},"encoding":{"x":{"datum":469.6,"type":"quantitative","axis":null,"title":null},"x2":{"datum":478.5},"y":{"field":"p","type":"quantitative","title":null}}},
{"data":{"values":[{"p":124.09},{"p":123.29},{"p":122.51},{"p":121.32},{"p":119.85},{"p":118.71},{"p":118.23}]},"mark":{"type":"text","color":"#FFFFFF","fontSize":8.5,"align":"center","baseline":"middle","clip":false},"encoding":{"x":{"datum":474.05,"type":"quantitative","axis":null,"title":null},"y":{"field":"p","type":"quantitative","title":null},"text":{"field":"p","type":"quantitative","format":".2f"}}},
{"data":{"values":[{"t":"Critical support at higher time frames"}]},"mark":{"type":"text","font":"Liberation Sans","fontSize":21,"color":"#000000","align":"center","baseline":"middle"},"encoding":{"x":{"datum":393.2,"type":"quantitative","axis":null,"title":null},"y":{"datum":118.434,"type":"quantitative","title":null},"text":{"field":"t"}}},
{"data":{"values":[{"t":"▼"}]},"mark":{"type":"text","fontSize":7,"color":"#000000","align":"left","baseline":"middle"},"encoding":{"x":{"datum":0.4,"type":"quantitative","axis":null,"title":null},"y":{"datum":124.327,"type":"quantitative","title":null},"text":{"field":"t"}}},
{"data":{"values":[{"t":"EURJPY,H4  118.83 118.85 118.75 118.75"}]},"mark":{"type":"text","fontSize":8,"color":"#000000","align":"left","baseline":"middle"},"encoding":{"x":{"datum":3.7,"type":"quantitative","axis":null,"title":null},"y":{"datum":124.327,"type":"quantitative","title":null},"text":{"field":"t"}}},
{"data":{"values":[{"t":"shift"}]},"mark":{"type":"point","shape":"triangle-down","filled":true,"color":"#A8A8A8","size":30,"opacity":1},"encoding":{"x":{"datum":327.9,"type":"quantitative","axis":null,"title":null},"y":{"datum":124.31,"type":"quantitative","title":null}}}
]
},
{
"width":1760,"height":150,
"layer":[
{"data":{"values":[{"v":80},{"v":70},{"v":30},{"v":20}]},"mark":{"type":"rule","color":"#B4B4B4","strokeWidth":1,"strokeDash":[2,2]},"encoding":{"y":{"field":"v","type":"quantitative","scale":{"domain":[0,100],"nice":false,"padding":0},"title":null,"axis":{"orient":"right","values":[0,20,30,70,80,100],"tickCount":20,"format":"d","labelFlush":true,"labelOverlap":false}}}},
{"data":{"name":"rsi"},"mark":{"type":"line","color":"#6893B3","strokeWidth":1,"clip":true},"encoding":{"x":{"field":"i","type":"quantitative","scale":{"domain":[-0.4,468.93],"nice":false,"zero":false,"padding":0},"axis":null,"title":null},"y":{"field":"v","type":"quantitative","title":null}}},
{"data":{"values":[{"t":"RSI(14) 39.9193"}]},"mark":{"type":"text","fontSize":8,"color":"#000000","align":"left","baseline":"middle"},"encoding":{"x":{"datum":0.67,"type":"quantitative","axis":null,"title":null},"y":{"datum":95,"type":"quantitative","title":null},"text":{"field":"t"}}}
]
},
{
"width":1760,"height":146,
"layer":[
{"data":{"values":[{"v":80},{"v":20}]},"mark":{"type":"rule","color":"#B4B4B4","strokeWidth":1,"strokeDash":[2,2]},"encoding":{"y":{"field":"v","type":"quantitative","scale":{"domain":[0,100],"nice":false,"padding":0},"title":null,"axis":{"orient":"right","values":[0,20,80,100],"tickCount":20,"format":"d","labelFlush":true,"labelOverlap":false}}}},
{"data":{"name":"std"},"mark":{"type":"line","color":"#A34A40","strokeWidth":1,"strokeDash":[3,2],"clip":true},"encoding":{"x":{"field":"i","type":"quantitative","scale":{"domain":[-0.4,468.93],"nice":false,"zero":false,"padding":0},"title":null,"axis":{"orient":"bottom","zindex":1,"values":[0,16,32,48,64,80,96,112,128,144,160,176,192,208,224,240,256,272,288,304,320],"tickCount":60,"labelExpr":"['13 Dec 2016','15 Dec 16:00','20 Dec 08:00','23 Dec 00:00','27 Dec 20:00','30 Dec 12:00','4 Jan 04:00','6 Jan 20:00','11 Jan 12:00','16 Jan 04:00','18 Jan 20:00','23 Jan 12:00','26 Jan 04:00','30 Jan 20:00','2 Feb 12:00','7 Feb 04:00','9 Feb 20:00','14 Feb 12:00','17 Feb 04:00','21 Feb 20:00','24 Feb 12:00'][round(datum.value/16)]","labelAlign":"left","labelOffset":0,"labelPadding":1,"tickSize":4,"labelFontSize":7.5,"labelOverlap":false,"labelBound":false,"labelFlush":false}},"y":{"field":"v","type":"quantitative","title":null}}},
{"data":{"name":"stk"},"mark":{"type":"line","color":"#5EA5A5","strokeWidth":1.2,"clip":true},"encoding":{"x":{"field":"i","type":"quantitative","title":null},"y":{"field":"v","type":"quantitative","title":null}}},
{"data":{"values":[{"t":"Stoch(21,7,7) 18.7822 24.8771"}]},"mark":{"type":"text","fontSize":8,"color":"#000000","align":"left","baseline":"middle"},"encoding":{"x":{"datum":0.67,"type":"quantitative","title":null},"y":{"datum":94.5,"type":"quantitative","title":null},"text":{"field":"t"}}},
{"data":{"values":[{"t":"watermark"}]},"mark":{"type":"rect","color":"#DC5A5A","opacity":0.52,"clip":false},"encoding":{"x":{"datum":-0.4,"type":"quantitative","title":null},"x2":{"datum":104.9},"y":{"datum":32.9,"type":"quantitative","title":null},"y2":{"datum":-12.3}}},
{"data":{"values":[{"t":"["}]},"mark":{"type":"text","font":"Open Sans","fontSize":36,"color":"#FFFFFF","align":"left","baseline":"alphabetic","clip":false},"encoding":{"x":{"datum":5.2,"type":"quantitative","title":null},"y":{"datum":2.74,"type":"quantitative","title":null},"text":{"field":"t"}}},
{"data":{"values":[{"t":"]"}]},"mark":{"type":"text","font":"Open Sans","fontSize":36,"color":"#FFFFFF","align":"left","baseline":"alphabetic","clip":false},"encoding":{"x":{"datum":97.6,"type":"quantitative","title":null},"y":{"datum":2.74,"type":"quantitative","title":null},"text":{"field":"t"}}},
{"data":{"values":[{"t":"www.instaforex"}]},"mark":{"type":"text","font":"Open Sans","fontSize":36,"color":"#FFFFFF","align":"left","baseline":"alphabetic","clip":false},"encoding":{"x":{"datum":13.2,"type":"quantitative","title":null},"y":{"datum":2.74,"type":"quantitative","title":null},"text":{"field":"t"}}},
{"data":{"values":[{"t":".com"}]},"mark":{"type":"text","font":"Open Sans","fontSize":20,"color":"#FFFFFF","align":"left","baseline":"alphabetic","clip":false},"encoding":{"x":{"datum":84.9,"type":"quantitative","title":null},"y":{"datum":2.74,"type":"quantitative","title":null},"text":{"field":"t"}}}
]
}
]
}
